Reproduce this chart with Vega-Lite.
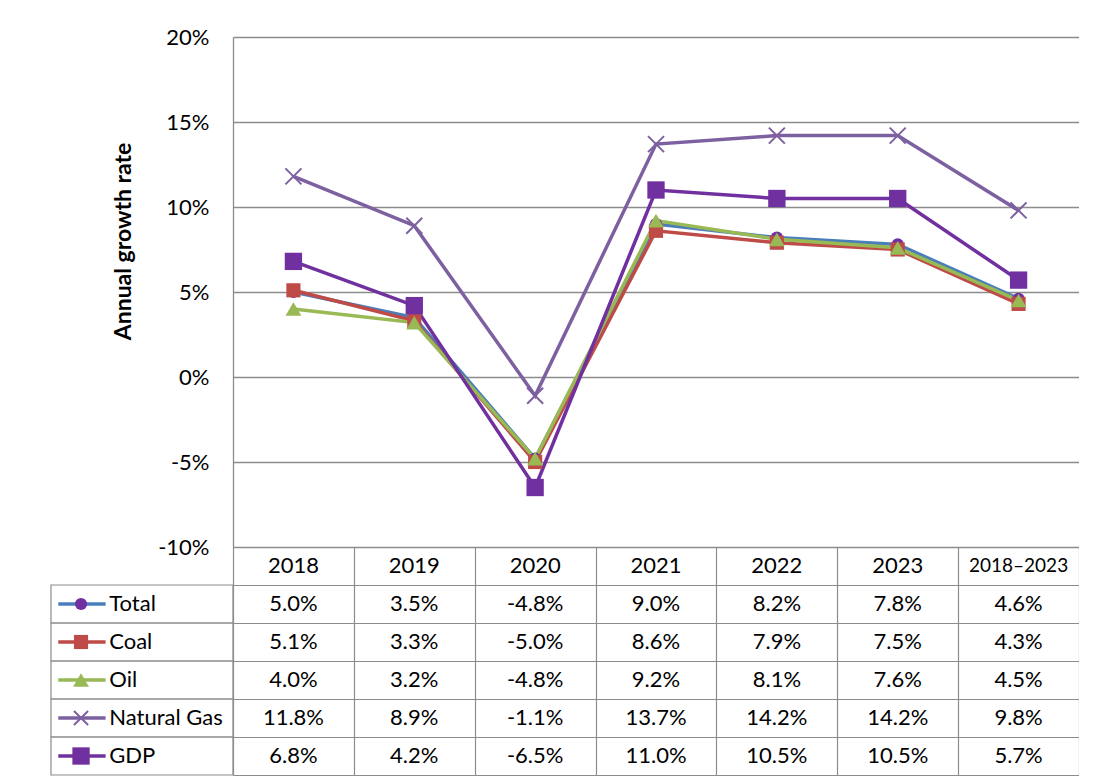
{
  "$schema": "https://vega.github.io/schema/vega-lite/v6.json",
  "padding": {"left": 50, "top": 26, "right": 0, "bottom": 0},
  "autosize": {"type": "pad"},
  "background": "white",
  "columns": 2,
  "spacing": 0,
  "bounds": "flush",
  "datasets": {
    "growth": [
      {"series": "Total", "period": "2018", "value": 0.050},
      {"series": "Total", "period": "2019", "value": 0.035},
      {"series": "Total", "period": "2020", "value": -0.048},
      {"series": "Total", "period": "2021", "value": 0.090},
      {"series": "Total", "period": "2022", "value": 0.082},
      {"series": "Total", "period": "2023", "value": 0.078},
      {"series": "Total", "period": "2018–2023", "value": 0.046},
      {"series": "Coal", "period": "2018", "value": 0.051},
      {"series": "Coal", "period": "2019", "value": 0.033},
      {"series": "Coal", "period": "2020", "value": -0.050},
      {"series": "Coal", "period": "2021", "value": 0.086},
      {"series": "Coal", "period": "2022", "value": 0.079},
      {"series": "Coal", "period": "2023", "value": 0.075},
      {"series": "Coal", "period": "2018–2023", "value": 0.043},
      {"series": "Oil", "period": "2018", "value": 0.040},
      {"series": "Oil", "period": "2019", "value": 0.032},
      {"series": "Oil", "period": "2020", "value": -0.048},
      {"series": "Oil", "period": "2021", "value": 0.092},
      {"series": "Oil", "period": "2022", "value": 0.081},
      {"series": "Oil", "period": "2023", "value": 0.076},
      {"series": "Oil", "period": "2018–2023", "value": 0.045},
      {"series": "Natural Gas", "period": "2018", "value": 0.118},
      {"series": "Natural Gas", "period": "2019", "value": 0.089},
      {"series": "Natural Gas", "period": "2020", "value": -0.011},
      {"series": "Natural Gas", "period": "2021", "value": 0.137},
      {"series": "Natural Gas", "period": "2022", "value": 0.142},
      {"series": "Natural Gas", "period": "2023", "value": 0.142},
      {"series": "Natural Gas", "period": "2018–2023", "value": 0.098},
      {"series": "GDP", "period": "2018", "value": 0.068},
      {"series": "GDP", "period": "2019", "value": 0.042},
      {"series": "GDP", "period": "2020", "value": -0.065},
      {"series": "GDP", "period": "2021", "value": 0.110},
      {"series": "GDP", "period": "2022", "value": 0.105},
      {"series": "GDP", "period": "2023", "value": 0.105},
      {"series": "GDP", "period": "2018–2023", "value": 0.057}
    ]
  },
  "concat": [
    {
      "width": 182,
      "height": 510,
      "data": {"values": []},
      "mark": "point"
    },
    {
      "width": 846,
      "height": 510,
      "data": {"name": "growth"},
      "encoding": {
        "x": {"field": "period", "type": "nominal", "sort": ["2018", "2019", "2020", "2021", "2022", "2023", "2018–2023"], "scale": {"type": "point", "padding": 0.5}, "axis": null},
        "y": {
          "field": "value", "type": "quantitative",
          "scale": {"domain": [-0.1, 0.2], "nice": false, "zero": false},
          "axis": {
            "values": [-0.1, -0.05, 0, 0.05, 0.1, 0.15, 0.2],
            "format": ".0%",
            "labelExpr": "replace(datum.label, '\u2212', '-')",
            "grid": true, "gridColor": "#8c8c8c", "gridWidth": 1.3,
            "domain": true, "domainColor": "#8c8c8c", "domainWidth": 1.3,
            "ticks": false, "labelPadding": 24, "labelFontSize": 22,
            "title": "Annual growth rate", "titleFontSize": 23, "titleFontWeight": "bold", "titlePadding": 22, "titleY": 204
          }
        }
      },
      "layer": [
        {
          "mark": {"type": "line", "strokeWidth": 3.5},
          "encoding": {
            "stroke": {"field": "series", "type": "nominal", "legend": null,
              "scale": {"domain": ["Total", "Coal", "Oil", "Natural Gas", "GDP"], "range": ["#4A7EBB", "#BE4B48", "#98B954", "#7D60A0", "#7030A0"]}}
          }
        },
        {
          "transform": [{"filter": "datum.series !== 'Natural Gas'"}],
          "mark": {"type": "point", "filled": true, "opacity": 1, "strokeWidth": 0},
          "encoding": {
            "fill": {"field": "series", "type": "nominal", "legend": null,
              "scale": {"domain": ["Total", "Coal", "Oil", "GDP"], "range": ["#7030A0", "#BE4B48", "#98B954", "#7030A0"]}},
            "shape": {"field": "series", "type": "nominal", "legend": null,
              "scale": {"domain": ["Total", "Coal", "Oil", "GDP"], "range": ["circle", "square", "triangle-up", "square"]}},
            "size": {"field": "series", "type": "nominal", "legend": null,
              "scale": {"domain": ["Total", "Coal", "Oil", "GDP"], "range": [150, 300, 260, 470]}}
          }
        },
        {
          "transform": [{"filter": "datum.series === 'Natural Gas'"}],
          "mark": {"type": "point", "filled": false, "opacity": 1, "shape": "M-1,-1L1,1M-1,1L1,-1", "size": 256, "stroke": "#7D60A0", "strokeWidth": 2}
        }
      ]
    },
    {
      "width": 182,
      "height": 228,
      "data": {"name": "growth"},
      "transform": [{"filter": "datum.period === '2018'"}],
      "encoding": {
        "y": {"field": "series", "type": "nominal", "axis": null,
          "scale": {"type": "band", "domain": ["header", "Total", "Coal", "Oil", "Natural Gas", "GDP"], "paddingInner": 0, "paddingOuter": 0}}
      },
      "layer": [
        {
          "mark": {"type": "rect", "fill": null, "stroke": "#8c8c8c", "strokeWidth": 1.2},
          "encoding": {
            "x": {"datum": 0, "type": "quantitative", "scale": {"domain": [0, 1]}, "axis": null},
            "x2": {"datum": 1}
          }
        },
        {
          "mark": {"type": "rule", "strokeWidth": 3.5},
          "encoding": {
            "x": {"datum": 0.04, "type": "quantitative"},
            "x2": {"datum": 0.3},
            "stroke": {"field": "series", "type": "nominal", "legend": null,
              "scale": {"domain": ["Total", "Coal", "Oil", "Natural Gas", "GDP"], "range": ["#4A7EBB", "#BE4B48", "#98B954", "#7D60A0", "#7030A0"]}}
          }
        },
        {
          "transform": [{"filter": "datum.series !== 'Natural Gas'"}],
          "mark": {"type": "point", "filled": true, "opacity": 1, "strokeWidth": 0},
          "encoding": {
            "x": {"datum": 0.165, "type": "quantitative"},
            "fill": {"field": "series", "type": "nominal", "legend": null,
              "scale": {"domain": ["Total", "Coal", "Oil", "GDP"], "range": ["#7030A0", "#BE4B48", "#98B954", "#7030A0"]}},
            "shape": {"field": "series", "type": "nominal", "legend": null,
              "scale": {"domain": ["Total", "Coal", "Oil", "GDP"], "range": ["circle", "square", "triangle-up", "square"]}},
            "size": {"field": "series", "type": "nominal", "legend": null,
              "scale": {"domain": ["Total", "Coal", "Oil", "GDP"], "range": [130, 220, 200, 300]}}
          }
        },
        {
          "transform": [{"filter": "datum.series === 'Natural Gas'"}],
          "mark": {"type": "point", "filled": false, "opacity": 1, "shape": "M-1,-1L1,1M-1,1L1,-1", "size": 200, "stroke": "#7D60A0", "strokeWidth": 2},
          "encoding": {"x": {"datum": 0.165, "type": "quantitative"}}
        },
        {
          "mark": {"type": "text", "align": "left", "baseline": "middle", "fontSize": 22},
          "encoding": {
            "x": {"datum": 0.32, "type": "quantitative"},
            "text": {"field": "series"}
          }
        }
      ]
    },
    {
      "width": 846,
      "height": 228,
      "data": {"name": "growth"},
      "encoding": {
        "x": {"field": "period", "type": "nominal", "sort": ["2018", "2019", "2020", "2021", "2022", "2023", "2018–2023"],
          "scale": {"type": "band", "paddingInner": 0, "paddingOuter": 0},
          "axis": {"labels": false, "ticks": false, "domain": false, "grid": true, "tickBand": "extent", "gridColor": "#8c8c8c", "gridWidth": 1.2, "title": null}}
      },
      "layer": [
        {
          "transform": [{"filter": "datum.series === 'Total'"}],
          "mark": {"type": "text", "baseline": "middle"},
          "encoding": {
            "y": {"datum": "header", "type": "nominal"},
            "text": {"field": "period"},
            "size": {"condition": {"test": "datum.period === '2018–2023'", "value": 19}, "value": 22}
          }
        },
        {
          "transform": [{"calculate": "replace(format(datum.value, '.1%'), '\u2212', '-')", "as": "label"}],
          "mark": {"type": "text", "baseline": "middle", "fontSize": 22},
          "encoding": {
            "y": {"field": "series", "type": "nominal",
              "scale": {"type": "band", "domain": ["header", "Total", "Coal", "Oil", "Natural Gas", "GDP"], "paddingInner": 0, "paddingOuter": 0},
              "axis": {"labels": false, "ticks": false, "domain": false, "grid": true, "tickBand": "extent", "gridColor": "#8c8c8c", "gridWidth": 1.2, "title": null}},
            "text": {"field": "label"}
          }
        }
      ]
    }
  ],
  "config": {
    "view": {"stroke": null},
    "font": "Lato",
    "axis": {"labelFont": "Lato", "titleFont": "Lato", "labelColor": "#000", "titleColor": "#000", "labelFontSize": 22},
    "text": {"font": "Lato", "fontSize": 22, "color": "#000"}
  }
}
